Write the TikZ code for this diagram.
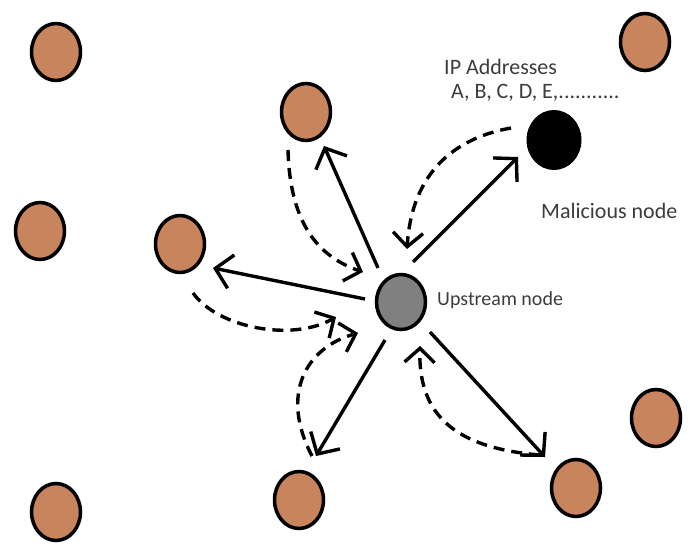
\documentclass[tikz,border=0pt]{standalone}
\usepackage{fontspec}
\setmainfont{Carlito}
\usetikzlibrary{shapes.geometric,arrows.meta,calc}
\definecolor{peer}{RGB}{200,132,92}
\definecolor{upgray}{RGB}{128,128,128}
\definecolor{txt}{RGB}{60,60,60}
\begin{document}
\begin{tikzpicture}[x=1pt,y=-1pt,
  peernode/.style={ellipse,draw=black,fill=peer,line width=3.5pt,minimum width=49pt,minimum height=57pt,inner sep=0pt},
  upnode/.style={ellipse,draw=black,fill=upgray,line width=3.5pt,minimum width=49pt,minimum height=55pt,inner sep=0pt},
  malnode/.style={ellipse,draw=black,fill=black,line width=1pt,minimum width=54pt,minimum height=59pt,inner sep=0pt},
  lbl/.style={font=\fontsize{20}{24}\selectfont,text=txt,anchor=base west,inner sep=0pt},
  biglbl/.style={lbl,font=\fontsize{22}{26}\selectfont},
  solidarrow/.style={line width=3.4pt,-{Straight Barb[length=16pt,width=34pt,line width=3.4pt]}},
  dasharrow/.style={line width=3.4pt,dash pattern=on 11pt off 7pt,-{Straight Barb[length=14pt,width=30pt,line width=3.4pt]}}]
\useasboundingbox (0,0) rectangle (690,546);
% outer peers
\node[peernode] (p1) at (56,52) {};
\node[peernode] (p2) at (645,42) {};
\node[peernode] (p3) at (40,231) {};
\node[peernode] (p4) at (656,418) {};
\node[peernode] (p5) at (56,512) {};
% inner peers
\node[peernode] (t) at (306,112) {};
\node[peernode] (l) at (180,244) {};
\node[peernode] (b) at (299,500) {};
\node[peernode] (r) at (576,488) {};
% special nodes
\node[upnode] (u) at (401,302) {};
\node[malnode] (m) at (554,140) {};
% labels
\node[biglbl] (iplbl) at (444,74) {IP Addresses};
\node[biglbl] (addrlbl) at (451,98) {A, B, C, D, E,...........};
\node[biglbl] (mallbl) at (541,218) {Malicious node};
\node[lbl] (uplbl) at (437,305) {Upstream node};
% solid arrows upstream -> peers
\draw[solidarrow] ($(u)+(-23,-34)$) -- ($(t)+(18,34)$);
\draw[solidarrow] ($(u)+(-36,-3)$) -- ($(l)+(33,24)$);
\draw[solidarrow] ($(u)+(12,-40)$) -- ($(m)+(-36,17)$);
\draw[solidarrow] ($(u)+(-16,38)$) -- ($(b)+(17,-44)$);
\draw[solidarrow] ($(u)+(29,30)$) -- ($(r)+(-31,-31)$);
% dashed replies peers -> upstream
\draw[dasharrow] ($(t)+(-18,38)$) .. controls (290,228) and (322,258) .. ($(u)+(-38,-30)$);
\draw[dasharrow] ($(l)+(13,49)$) .. controls (218,328) and (292,342) .. ($(u)+(-65,15)$);
\draw[dasharrow] ($(b)+(13,-44)$) .. controls (280,395) and (305,348) .. ($(u)+(-43,31)$);
\draw[dasharrow] ($(r)+(-36,-33)$) .. controls (455,448) and (418,415) .. ($(u)+(19,44)$);
\draw[dasharrow] ($(m)+(-43,-12)$) .. controls (455,138) and (412,172) .. ($(u)+(6,-53)$);
\end{tikzpicture}
\end{document}
